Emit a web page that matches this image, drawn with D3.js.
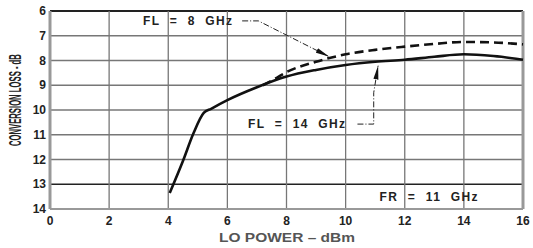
<!DOCTYPE html>
<html>
<head>
<meta charset="utf-8">
<script src="https://cdn.jsdelivr.net/npm/d3@7"></script>
<style>
  body { margin: 0; background: #fff; }
  text { font-family: "Liberation Sans", Arial, sans-serif; font-weight: bold; fill: #222; }
  .note { white-space: pre; font-size: 12px; letter-spacing: 1.4px; }
</style>
</head>
<body>
<div id="chart"></div>
<script>
// LO power (dBm) vs conversion loss (dB)
var fl14Power = [4.05, 4.5, 4.85, 5.2, 5.45, 6, 7, 8, 9, 10, 11, 12, 13, 14, 15, 16];
var fl14Loss  = [13.35, 12.05, 10.95, 10.12, 9.95, 9.6, 9.08, 8.65, 8.38, 8.18, 8.05, 7.97, 7.85, 7.75, 7.82, 7.97];
var fl8Power  = [7.2, 7.6, 8, 9, 10, 11, 12, 13, 14, 15, 16];
var fl8Loss   = [9.0, 8.75, 8.47, 8.05, 7.75, 7.57, 7.44, 7.33, 7.25, 7.27, 7.35];
var xTicks = [0, 2, 4, 6, 8, 10, 12, 14, 16];
var yTicks = [6, 7, 8, 9, 10, 11, 12, 13, 14];

var width = 533, height = 248;
var margin = {top: 11, right: 10, bottom: 39, left: 50};

var svg = d3.select("#chart").append("svg")
    .attr("width", width)
    .attr("height", height);

var x = d3.scaleLinear().domain([0, 16]).range([margin.left, width - margin.right]);
var y = d3.scaleLinear().domain([6, 14]).range([margin.top, height - margin.bottom]);

// grid
svg.append("g").selectAll("line.h")
    .data(yTicks)
    .enter().append("line")
    .attr("x1", x(0)).attr("x2", x(16))
    .attr("y1", function(d){ return y(d); })
    .attr("y2", function(d){ return y(d); })
    .style("stroke", function(d){ return (d == 6 || d == 13) ? "#222" : "#777"; })
    .style("stroke-width", function(d){ return d == 6 ? 2 : 1.5; });

svg.append("g").selectAll("line.v")
    .data(xTicks.slice(1, -1))
    .enter().append("line")
    .attr("x1", function(d){ return x(d); })
    .attr("x2", function(d){ return x(d); })
    .attr("y1", y(6)).attr("y2", y(14))
    .style("stroke", "#777")
    .style("stroke-width", 1.3);

// frame (gray left/right/bottom)
svg.append("line").attr("x1", x(0)).attr("x2", x(0)).attr("y1", y(6)).attr("y2", y(14))
    .style("stroke", "#999").style("stroke-width", 3);
svg.append("line").attr("x1", x(16)).attr("x2", x(16)).attr("y1", y(6)).attr("y2", y(14))
    .style("stroke", "#999").style("stroke-width", 3);
svg.append("line").attr("x1", x(0)).attr("x2", x(16)).attr("y1", y(14)).attr("y2", y(14))
    .style("stroke", "#999").style("stroke-width", 2);

// tick labels
svg.append("g").selectAll("text")
    .data(yTicks)
    .enter().append("text")
    .attr("x", x(0) - 4)
    .attr("y", function(d){ return y(d) + 4; })
    .attr("text-anchor", "end")
    .style("font-size", "12px")
    .text(function(d){ return d; });

svg.append("g").selectAll("text")
    .data(xTicks)
    .enter().append("text")
    .attr("x", function(d){ return x(d); })
    .attr("y", y(14) + 16)
    .attr("text-anchor", "middle")
    .style("font-size", "12px")
    .text(function(d){ return d; });

// axis titles
svg.append("text")
    .attr("x", 287).attr("y", 242)
    .attr("text-anchor", "middle")
    .attr("textLength", 136)
    .attr("lengthAdjust", "spacingAndGlyphs")
    .style("font-size", "13px")
    .style("fill", "#555")
    .text("LO POWER – dBm");

// condensed look: squeeze the rotated title with a scale instead of textLength
var yTitle = svg.append("text")
    .attr("text-anchor", "middle")
    .style("font-size", "16px")
    .text("CONVERSION LOSS - dB");
var natural = yTitle.node().getComputedTextLength();
yTitle.attr("transform", "translate(21," + y(9.6) + ") rotate(-90) scale(" + (92 / natural) + ",1)");

// curves
var line = d3.line()
    .x(function(d){ return x(d[0]); })
    .y(function(d){ return y(d[1]); })
    .curve(d3.curveMonotoneX);

svg.append("path")
    .datum(d3.zip(fl8Power, fl8Loss))
    .attr("d", line)
    .style("fill", "none")
    .style("stroke", "#111")
    .style("stroke-width", 2.6)
    .style("stroke-dasharray", "9,5");

svg.append("path")
    .datum(d3.zip(fl14Power, fl14Loss))
    .attr("d", line)
    .style("fill", "none")
    .style("stroke", "#111")
    .style("stroke-width", 2.6);

// annotations
svg.append("defs").append("marker")
    .attr("id", "arrow")
    .attr("viewBox", "0 0 14 6")
    .attr("refX", 14).attr("refY", 3)
    .attr("markerWidth", 14).attr("markerHeight", 6)
    .attr("markerUnits", "userSpaceOnUse")
    .attr("orient", "auto")
    .append("path").attr("d", "M0,0.5 L14,3 L0,5.5 Z")
    .style("fill", "#111");

var labelLine = d3.line()
    .x(function(d){ return x(d[0]); })
    .y(function(d){ return y(d[1]); });

svg.append("text")
    .attr("class", "note")
    .attr("x", x(3.15)).attr("y", y(6.4) + 4)
    .text("FL  =  8  GHz");

svg.append("path")
    .attr("d", labelLine([[6.5, 6.4], [7.05, 6.4], [9.45, 7.85]]))
    .style("fill", "none").style("stroke", "#222").style("stroke-width", 1)
    .style("stroke-dasharray", "6,2,1,2")
    .attr("marker-end", "url(#arrow)");

svg.append("text")
    .attr("class", "note")
    .attr("x", x(6.7)).attr("y", y(10.57) + 4)
    .text("FL  =  14  GHz");

svg.append("path")
    .attr("d", labelLine([[10.4, 10.57], [10.95, 10.57], [10.95, 9.3], [11.1, 8.2]]))
    .style("fill", "none").style("stroke", "#222").style("stroke-width", 1)
    .style("stroke-dasharray", "6,2,1,2")
    .attr("marker-end", "url(#arrow)");

svg.append("text")
    .attr("class", "note")
    .attr("x", x(11.15)).attr("y", y(13.5) + 4)
    .text("FR  =  11  GHz");
</script>
</body>
</html>
